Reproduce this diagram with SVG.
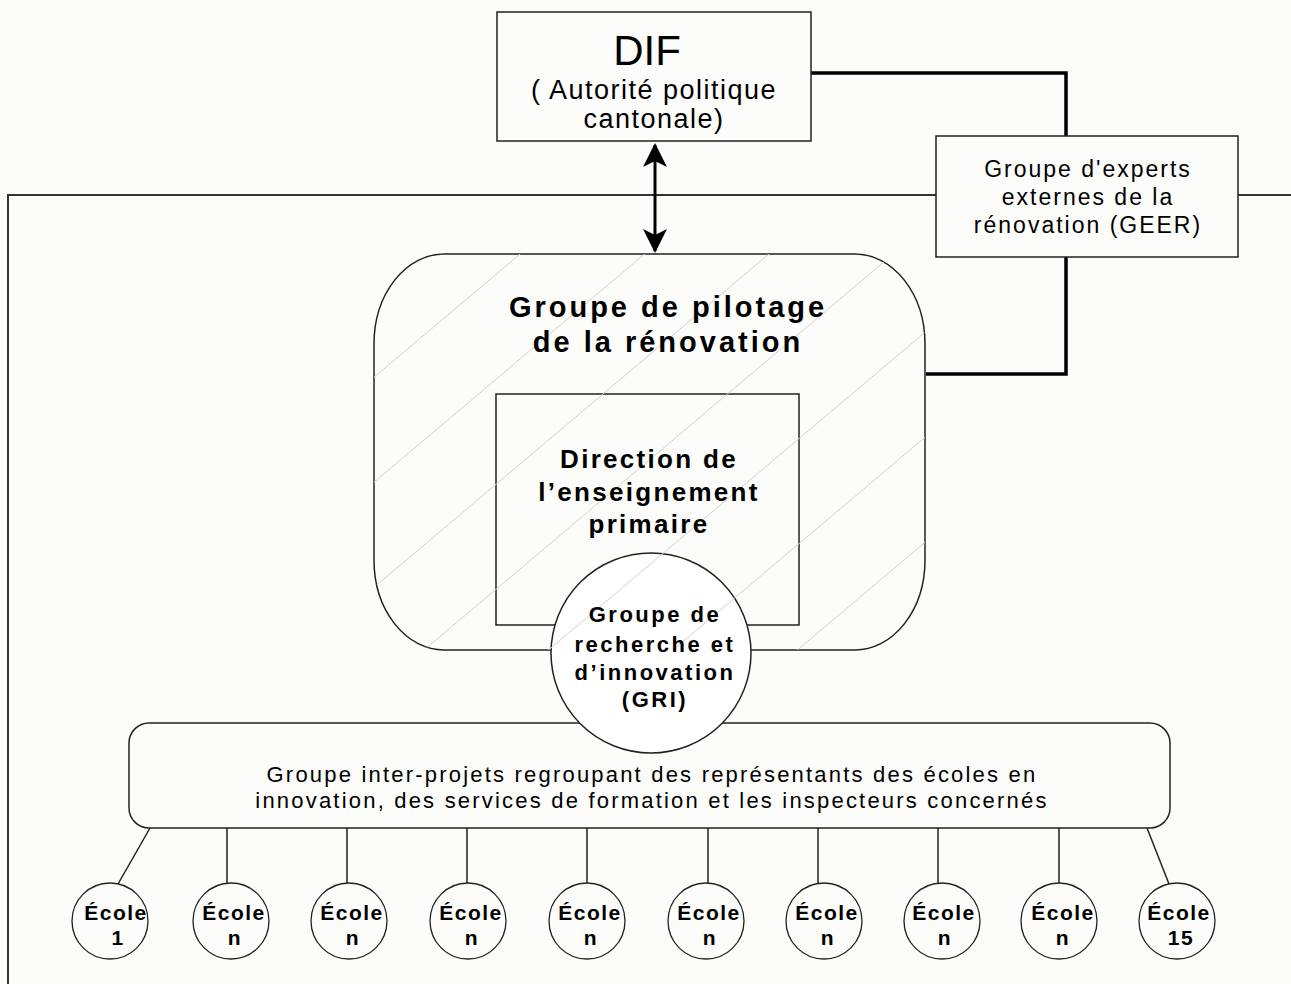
<svg xmlns="http://www.w3.org/2000/svg" width="1291" height="984" viewBox="0 0 1291 984">
<style>
  .t{font-family:"Liberation Sans",Arial,sans-serif;fill:#000;text-anchor:middle}
  .b{font-weight:bold}
  .box{fill:#fcfcfa;stroke:#222;stroke-width:1.5}
  .thin{fill:none;stroke:#222;stroke-width:1.5}
  .thick{fill:none;stroke:#000;stroke-width:3.5}
  .hatch{stroke:#d2d2d2;stroke-width:1}
  .school{fill:#fcfcfa;stroke:#222;stroke-width:1.3}
  .ec{font-size:21px;letter-spacing:1.5px}
</style>
<defs>
  <marker id="arr" viewBox="0 0 24 24" refX="22" refY="12" markerWidth="24" markerHeight="24" markerUnits="userSpaceOnUse" orient="auto-start-reverse">
    <path d="M0,0 L24,12 L0,24 L6,12 Z" fill="#000"/>
  </marker>
  <clipPath id="pilotClip">
    <rect x="374" y="254" width="551" height="396" rx="70" ry="90"/>
  </clipPath>
</defs>
<rect x="0" y="0" width="1291" height="984" fill="#fcfcfa"/>

<g id="frame">
  <path d="M8,984 V195 H1291" fill="none" stroke="#333" stroke-width="2"/>
</g>

<g id="connectors">
  <path class="thick" d="M811,73 H1066 V136"/>
  <path class="thick" d="M1066,257 V374 H926"/>
  <line x1="655" y1="145" x2="655" y2="251" stroke="#000" stroke-width="3" marker-start="url(#arr)" marker-end="url(#arr)"/>
  <line class="thin" x1="150" y1="828" x2="118" y2="884"/>
  <line class="thin" x1="227" y1="828" x2="227" y2="883"/>
  <line class="thin" x1="347" y1="828" x2="347" y2="883"/>
  <line class="thin" x1="467" y1="828" x2="467" y2="883"/>
  <line class="thin" x1="587" y1="828" x2="587" y2="883"/>
  <line class="thin" x1="708" y1="828" x2="708" y2="883"/>
  <line class="thin" x1="818" y1="828" x2="818" y2="883"/>
  <line class="thin" x1="938" y1="828" x2="938" y2="883"/>
  <line class="thin" x1="1059" y1="828" x2="1059" y2="883"/>
  <line class="thin" x1="1147" y1="828" x2="1169" y2="884"/>
</g>

<g id="dif">
  <rect class="box" x="497" y="12" width="314" height="129"/>
  <text class="t" x="647" y="65" font-size="42">DIF</text>
  <text class="t" x="654" y="99" font-size="27" letter-spacing="1.5">( Autorité politique</text>
  <text class="t" x="654" y="128" font-size="27" letter-spacing="1.5">cantonale)</text>
</g>

<g id="geer">
  <rect class="box" x="936" y="136" width="302" height="121"/>
  <text class="t" x="1088" y="177" font-size="23" letter-spacing="2">Groupe d'experts</text>
  <text class="t" x="1088" y="205" font-size="23" letter-spacing="2">externes de la</text>
  <text class="t" x="1088" y="233" font-size="23" letter-spacing="2">rénovation (GEER)</text>
</g>

<g id="inter-projets">
  <rect class="box" x="129" y="723" width="1041" height="105" rx="20" ry="20"/>
  <text class="t" x="652" y="782" font-size="22" letter-spacing="2.2">Groupe inter-projets regroupant des représentants des écoles en</text>
  <text class="t" x="652" y="808" font-size="22" letter-spacing="2.2">innovation, des services de formation et les inspecteurs concernés</text>
</g>

<g id="pilotage">
  <rect class="box" x="374" y="254" width="551" height="396" rx="70" ry="90"/>
</g>

<g id="direction">
  <rect class="thin" x="496" y="394" width="303" height="231"/>
</g>

<g id="gri">
  <circle cx="651" cy="653" r="100" fill="#fff" stroke="#222" stroke-width="1.5"/>
</g>

<g id="hatching" clip-path="url(#pilotClip)">
  <line class="hatch" x1="374" y1="272.3" x2="925" y2="-192.7"/>
  <line class="hatch" x1="374" y1="377.3" x2="925" y2="-87.7"/>
  <line class="hatch" x1="374" y1="482.3" x2="925" y2="17.3"/>
  <line class="hatch" x1="374" y1="587.3" x2="925" y2="122.3"/>
  <line class="hatch" x1="374" y1="692.3" x2="925" y2="227.3"/>
  <line class="hatch" x1="374" y1="797.3" x2="925" y2="332.3"/>
  <line class="hatch" x1="374" y1="902.3" x2="925" y2="437.3"/>
  <line class="hatch" x1="374" y1="1007.3" x2="925" y2="542.3"/>
  <line class="hatch" x1="374" y1="1112.3" x2="925" y2="647.3"/>
</g>

<g id="pilotage-label">
  <text class="t b" x="668" y="317" font-size="29" letter-spacing="3">Groupe de pilotage</text>
  <text class="t b" x="668" y="352" font-size="29" letter-spacing="3">de la rénovation</text>
</g>

<g id="direction-label">
  <text class="t b" x="649" y="468" font-size="26" letter-spacing="2.3">Direction de</text>
  <text class="t b" x="649" y="501" font-size="26" letter-spacing="2.3">l’enseignement</text>
  <text class="t b" x="649" y="533" font-size="26" letter-spacing="2.3">primaire</text>
</g>

<g id="gri-label">
  <text class="t b" x="655" y="622" font-size="22" letter-spacing="2.5">Groupe de</text>
  <text class="t b" x="655" y="652" font-size="22" letter-spacing="2.5">recherche et</text>
  <text class="t b" x="655" y="680" font-size="22" letter-spacing="2.5">d’innovation</text>
  <text class="t b" x="655" y="707" font-size="22" letter-spacing="2.5">(GRI)</text>
</g>

<g id="ecole-1"><circle class="school" cx="110" cy="921" r="38"/><text class="t b ec" x="116" y="920">École</text><text class="t b ec" x="118" y="945">1</text></g>
<g id="ecole-2"><circle class="school" cx="231" cy="921" r="38"/><text class="t b ec" x="234" y="920">École</text><text class="t b ec" x="235" y="945">n</text></g>
<g id="ecole-3"><circle class="school" cx="349" cy="921" r="38"/><text class="t b ec" x="352" y="920">École</text><text class="t b ec" x="353" y="945">n</text></g>
<g id="ecole-4"><circle class="school" cx="468" cy="921" r="38"/><text class="t b ec" x="471" y="920">École</text><text class="t b ec" x="472" y="945">n</text></g>
<g id="ecole-5"><circle class="school" cx="587" cy="921" r="38"/><text class="t b ec" x="590" y="920">École</text><text class="t b ec" x="591" y="945">n</text></g>
<g id="ecole-6"><circle class="school" cx="706" cy="921" r="38"/><text class="t b ec" x="709" y="920">École</text><text class="t b ec" x="710" y="945">n</text></g>
<g id="ecole-7"><circle class="school" cx="824" cy="921" r="38"/><text class="t b ec" x="827" y="920">École</text><text class="t b ec" x="828" y="945">n</text></g>
<g id="ecole-8"><circle class="school" cx="942" cy="921" r="38"/><text class="t b ec" x="944" y="920">École</text><text class="t b ec" x="945" y="945">n</text></g>
<g id="ecole-9"><circle class="school" cx="1059" cy="921" r="38"/><text class="t b ec" x="1063" y="920">École</text><text class="t b ec" x="1063" y="945">n</text></g>
<g id="ecole-15"><circle class="school" cx="1177" cy="921" r="38"/><text class="t b ec" x="1179" y="920">École</text><text class="t b ec" x="1181" y="945">15</text></g>
</svg>
